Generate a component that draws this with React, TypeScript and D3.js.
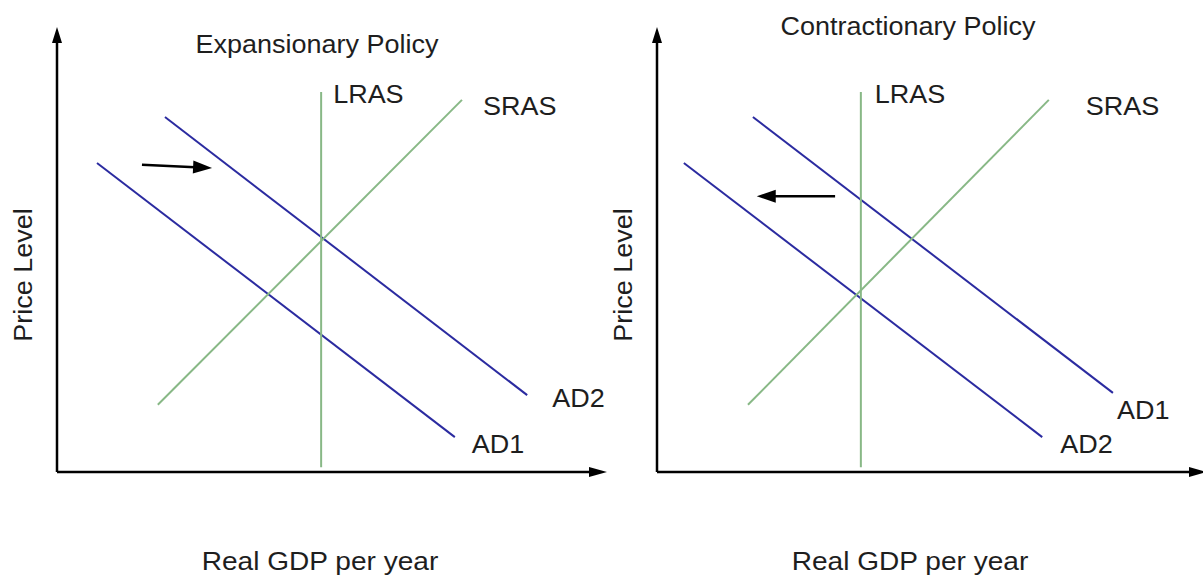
import React from "react";
import * as d3 from "d3";

// ---- data (domain units: 0..100 on each axis) ----
const panelTitles = ["Expansionary Policy", "Contractionary Policy"];
const xAxisLabel = "Real GDP per year";
const yAxisLabel = "Price Level";

// Left panel (expansionary)
const leftAD1: [number, number][] = [[7.3, 69.9], [72.6, 7.9]];
const leftAD2: [number, number][] = [[19.7, 80.3], [85.8, 17.4]];
const leftLRAS: [number, number][] = [[48.2, 86.0], [48.2, 1.1]];
const leftSRAS: [number, number][] = [[18.4, 15.2], [73.9, 84.2]];
const leftShift: [number, number][] = [[15.5, 69.5], [28.3, 68.8]];

// Right panel (contractionary)
const rightAD1: [number, number][] = [[17.5, 80.3], [83.2, 17.9]];
const rightAD2: [number, number][] = [[4.9, 69.9], [70.3, 7.9]];
const rightLRAS: [number, number][] = [[37.2, 86.0], [37.2, 1.1]];
const rightSRAS: [number, number][] = [[16.6, 15.2], [71.5, 84.2]];
const rightShift: [number, number][] = [[32.5, 62.4], [18.2, 62.4]];

const BLUE = "#2b2ba0";
const GREEN = "#88b886";
const TEXT = "#1e1e1e";
const FONT = "'Liberation Sans', Arial, sans-serif";
const STRETCH = 1.08;

type Curve = { name: string; pts: [number, number][]; color: string; lab: [number, number] };

const panels: {
  title: string;
  ox: number;
  titleY: number;
  titleX: number;
  labelX: number;
  curves: Curve[];
  shift: [number, number][];
  xEnd: number;
}[] = [
  {
    title: panelTitles[0],
    ox: 57,
    titleY: 53,
    titleX: 317,
    labelX: 320,
    curves: [
      { name: "AD1", pts: leftAD1, color: BLUE, lab: [17, 16] },
      { name: "AD2", pts: leftAD2, color: BLUE, lab: [25, 12] },
      { name: "LRAS", pts: leftLRAS, color: GREEN, lab: [12, 11] },
      { name: "SRAS", pts: leftSRAS, color: GREEN, lab: [21, 15] },
    ],
    shift: leftShift,
    xEnd: 607,
  },
  {
    title: panelTitles[1],
    ox: 657,
    titleY: 35,
    titleX: 908,
    labelX: 910,
    curves: [
      { name: "AD1", pts: rightAD1, color: BLUE, lab: [4, 26] },
      { name: "AD2", pts: rightAD2, color: BLUE, lab: [18, 16] },
      { name: "LRAS", pts: rightLRAS, color: GREEN, lab: [14, 11] },
      { name: "SRAS", pts: rightSRAS, color: GREEN, lab: [37, 15] },
    ],
    shift: rightShift,
    xEnd: 1207,
  },
];

const W = 1203;
const H = 576;
const OY = 472;

function SText({
  x,
  y,
  children,
  size = 25,
  anchor = "start",
  rotate = 0,
}: {
  x: number;
  y: number;
  children: React.ReactNode;
  size?: number;
  anchor?: string;
  rotate?: number;
}) {
  return (
    <text
      transform={`translate(${x},${y}) rotate(${rotate}) scale(${STRETCH},1)`}
      textAnchor={anchor}
      fontSize={size}
      fill={TEXT}
      fontFamily={FONT}
    >
      {children}
    </text>
  );
}

function Panel({ p }: { p: (typeof panels)[number] }) {
  const x = d3.scaleLinear().domain([0, 100]).range([p.ox, p.ox + 548]);
  const y = d3.scaleLinear().domain([0, 100]).range([OY, 30]);
  const line = d3
    .line<[number, number]>()
    .x((d) => x(d[0]))
    .y((d) => y(d[1]));
  return (
    <g>
      {/* axes */}
      <line x1={p.ox} y1={OY} x2={p.ox} y2={40} stroke="#000" strokeWidth={2.5} />
      <path d={`M${p.ox - 5},${43} L${p.ox},${27} L${p.ox + 5},${43} Z`} fill="#000" />
      <line x1={p.ox} y1={OY} x2={p.xEnd - 14} y2={OY} stroke="#000" strokeWidth={2.5} />
      <path d={`M${p.xEnd - 18},${OY - 5} L${p.xEnd},${OY} L${p.xEnd - 18},${OY + 5} Z`} fill="#000" />

      {p.curves.map((c) => {
        const anchorPt = c.name === "LRAS" ? c.pts[0] : c.pts[1];
        return (
          <g key={c.name}>
            <path d={line(c.pts) || ""} stroke={c.color} strokeWidth={2} fill="none" />
            <SText x={x(anchorPt[0]) + c.lab[0]} y={y(anchorPt[1]) + c.lab[1]}>
              {c.name}
            </SText>
          </g>
        );
      })}

      {/* shift arrow */}
      {(() => {
        const [a, b] = p.shift;
        const x1 = x(a[0]), y1 = y(a[1]), x2 = x(b[0]), y2 = y(b[1]);
        const ang = Math.atan2(y2 - y1, x2 - x1);
        const hl = 19, hw = 6.5;
        const bx = x2 - hl * Math.cos(ang), by = y2 - hl * Math.sin(ang);
        const nx = -Math.sin(ang) * hw, ny = Math.cos(ang) * hw;
        return (
          <g>
            <line x1={x1} y1={y1} x2={bx + 2 * Math.cos(ang)} y2={by + 2 * Math.sin(ang)} stroke="#000" strokeWidth={2.5} />
            <path d={`M${bx + nx},${by + ny} L${x2},${y2} L${bx - nx},${by - ny} Z`} fill="#000" />
          </g>
        );
      })()}

      <SText x={p.titleX} y={p.titleY} anchor="middle">
        {p.title}
      </SText>
      <SText x={p.labelX} y={570} anchor="middle" size={26}>
        {xAxisLabel}
      </SText>
      <SText x={p.ox - 25} y={275} anchor="middle" rotate={-90}>
        {yAxisLabel}
      </SText>
    </g>
  );
}

export default function App() {
  return (
    <svg
      width={W}
      height={H}
      viewBox={`0 0 ${W} ${H}`}
      style={{ position: "absolute", left: 0, top: 0, background: "#fff", display: "block" }}
    >
      <rect width={W} height={H} fill="#fff" />
      {panels.map((p, i) => (
        <Panel key={i} p={p} />
      ))}
    </svg>
  );
}
